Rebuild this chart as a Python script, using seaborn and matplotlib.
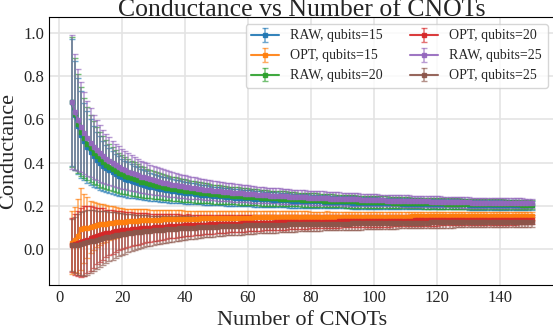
import numpy as np
import matplotlib
matplotlib.use("Agg")
import matplotlib.pyplot as plt
import seaborn as sns

# ---------------- data ----------------
n_cnots = np.arange(4, 151)

labels = ["RAW, qubits=15", "OPT, qubits=15", "RAW, qubits=20",
          "OPT, qubits=20", "RAW, qubits=25", "OPT, qubits=25"]

raw15_mean = [
    .680, .618, .569, .530, .498, .472, .449, .430, .413, .399,
    .386, .374, .364, .355, .347, .339, .332, .326, .320, .315,
    .310, .305, .301, .297, .293, .289, .286, .283, .280, .277,
    .275, .272, .270, .268, .265, .263, .261, .260, .258, .256,
    .254, .253, .251, .250, .249, .247, .246, .245, .244, .243,
    .241, .240, .239, .238, .237, .236, .236, .235, .234, .233,
    .232, .231, .231, .230, .229, .229, .228, .227, .227, .226,
    .225, .225, .224, .224, .223, .223, .222, .222, .221, .221,
    .220, .220, .219, .219, .218, .218, .218, .217, .217, .216,
    .216, .216, .215, .215, .215, .214, .214, .214, .213, .213,
    .213, .212, .212, .212, .212, .211, .211, .211, .210, .210,
    .210, .210, .209, .209, .209, .209, .208, .208, .208, .208,
    .208, .207, .207, .207, .207, .207, .206, .206, .206, .206,
    .206, .205, .205, .205, .205, .205, .204, .204, .204, .204,
    .204, .204, .203, .203, .203, .203, .203]
raw15_std = [
    .293, .253, .223, .199, .180, .165, .152, .141, .131, .123,
    .116, .110, .104, .099, .095, .091, .087, .084, .081, .078,
    .075, .073, .071, .069, .067, .065, .063, .062, .060, .059,
    .057, .056, .055, .054, .053, .051, .050, .050, .049, .048,
    .047, .046, .045, .045, .044, .043, .043, .042, .041, .041,
    .040, .040, .039, .039, .038, .038, .037, .037, .037, .036,
    .036, .035, .035, .035, .034, .034, .034, .033, .033, .033,
    .032, .032, .032, .032, .031, .031, .031, .030, .030, .030,
    .030, .030, .029, .029, .029, .029, .028, .028, .028, .028,
    .028, .028, .027, .027, .027, .027, .027, .027, .026, .026,
    .026, .026, .026, .026, .025, .025, .025, .025, .025, .025,
    .025, .025, .024, .024, .024, .024, .024, .024, .024, .024,
    .023, .023, .023, .023, .023, .023, .023, .023, .023, .023,
    .023, .022, .022, .022, .022, .022, .022, .022, .022, .022,
    .022, .022, .021, .021, .021, .021, .021]

opt15_mean = [
    .030, .045, .060, .095, .097, .100, .103, .108, .112, .115,
    .117, .119, .121, .122, .124, .125, .127, .128, .129, .130,
    .131, .132, .133, .134, .135, .135, .136, .137, .137, .138,
    .138, .139, .139, .140, .140, .141, .141, .141, .142, .142,
    .142, .143, .143, .143, .144, .144, .144, .144, .145, .145,
    .145, .145, .146, .146, .146, .146, .146, .146, .147, .147,
    .147, .147, .147, .147, .148, .148, .148, .148, .148, .148,
    .148, .149, .149, .149, .149, .149, .149, .149, .149, .149,
    .149, .150, .150, .150, .150, .150, .150, .150, .150, .150,
    .150, .150, .150, .151, .151, .151, .151, .151, .151, .151,
    .151, .151, .151, .151, .151, .151, .151, .151, .152, .152,
    .152, .152, .152, .152, .152, .152, .152, .152, .152, .152,
    .152, .152, .152, .152, .152, .152, .152, .152, .152, .153,
    .153, .153, .153, .153, .153, .153, .153, .153, .153, .153,
    .153, .153, .153, .153, .153, .153, .153]
opt15_std = [
    .145, .150, .170, .190, .160, .140, .120, .110, .100, .095,
    .090, .085, .080, .076, .072, .068, .063, .060, .058, .056,
    .054, .053, .051, .050, .049, .047, .046, .045, .044, .043,
    .043, .042, .041, .040, .040, .039, .038, .038, .037, .036,
    .036, .035, .035, .034, .034, .034, .033, .033, .032, .032,
    .032, .031, .031, .031, .030, .030, .030, .029, .029, .029,
    .029, .028, .028, .028, .028, .028, .027, .027, .027, .027,
    .027, .026, .026, .026, .026, .026, .025, .025, .025, .025,
    .025, .025, .024, .024, .024, .024, .024, .024, .024, .024,
    .023, .023, .023, .023, .023, .023, .023, .023, .023, .022,
    .022, .022, .022, .022, .022, .022, .022, .022, .022, .022,
    .021, .021, .021, .021, .021, .021, .021, .021, .021, .021,
    .021, .021, .021, .021, .020, .020, .020, .020, .020, .020,
    .020, .020, .020, .020, .020, .020, .020, .020, .020, .020,
    .020, .019, .019, .019, .019, .019, .019]

raw20_mean = [
    .680, .624, .580, .544, .513, .488, .466, .447, .430, .415,
    .402, .391, .380, .370, .362, .354, .347, .340, .334, .328,
    .323, .318, .313, .309, .305, .301, .298, .294, .291, .288,
    .285, .283, .280, .278, .275, .273, .271, .269, .267, .265,
    .263, .262, .260, .258, .257, .255, .254, .253, .251, .250,
    .249, .248, .247, .246, .245, .243, .243, .241, .241, .240,
    .239, .238, .237, .236, .236, .235, .234, .233, .233, .232,
    .231, .231, .230, .229, .229, .228, .228, .227, .227, .226,
    .225, .225, .224, .224, .223, .223, .223, .222, .222, .221,
    .221, .220, .220, .220, .219, .219, .218, .218, .218, .217,
    .217, .217, .216, .216, .216, .215, .215, .215, .214, .214,
    .214, .214, .213, .213, .213, .213, .212, .212, .212, .211,
    .211, .211, .211, .211, .210, .210, .210, .210, .209, .209,
    .209, .209, .209, .208, .208, .208, .208, .208, .207, .207,
    .207, .207, .207, .206, .206, .206, .206]
raw20_std = [
    .302, .260, .229, .204, .185, .169, .156, .145, .135, .127,
    .119, .113, .108, .102, .098, .093, .090, .086, .083, .080,
    .078, .075, .073, .070, .068, .066, .065, .063, .061, .060,
    .059, .057, .056, .055, .054, .053, .052, .051, .050, .049,
    .048, .047, .046, .046, .045, .044, .044, .043, .042, .042,
    .041, .041, .040, .040, .039, .039, .038, .038, .037, .037,
    .037, .036, .036, .035, .035, .035, .034, .034, .034, .033,
    .033, .033, .032, .032, .032, .032, .031, .031, .031, .031,
    .030, .030, .030, .030, .029, .029, .029, .029, .029, .028,
    .028, .028, .028, .028, .028, .027, .027, .027, .027, .027,
    .027, .026, .026, .026, .026, .026, .026, .025, .025, .025,
    .025, .025, .025, .025, .025, .024, .024, .024, .024, .024,
    .024, .024, .024, .024, .023, .023, .023, .023, .023, .023,
    .023, .023, .023, .023, .022, .022, .022, .022, .022, .022,
    .022, .022, .022, .022, .022, .022, .022]

opt20_mean = [
    .020, .023, .027, .032, .038, .044, .050, .055, .060, .065,
    .069, .073, .077, .080, .083, .086, .088, .089, .091, .092,
    .094, .095, .096, .098, .099, .100, .101, .102, .103, .104,
    .105, .106, .107, .108, .108, .109, .110, .111, .111, .112,
    .113, .113, .114, .114, .115, .115, .116, .116, .117, .117,
    .118, .118, .119, .119, .120, .120, .120, .121, .121, .122,
    .122, .122, .123, .123, .123, .124, .124, .124, .124, .125,
    .125, .125, .126, .126, .126, .126, .127, .127, .127, .127,
    .128, .128, .128, .128, .128, .129, .129, .129, .129, .129,
    .130, .130, .130, .130, .130, .130, .131, .131, .131, .131,
    .131, .131, .132, .132, .132, .132, .132, .132, .132, .133,
    .133, .133, .133, .133, .133, .133, .133, .134, .134, .134,
    .134, .134, .134, .134, .134, .135, .135, .135, .135, .135,
    .135, .135, .135, .135, .135, .135, .136, .136, .136, .136,
    .136, .136, .136, .136, .136, .136, .136]
opt20_std = [
    .125, .140, .150, .160, .160, .155, .150, .140, .130, .125,
    .120, .110, .105, .100, .095, .090, .087, .084, .081, .078,
    .075, .073, .071, .069, .067, .065, .063, .062, .060, .059,
    .057, .056, .055, .054, .053, .051, .050, .050, .049, .048,
    .047, .046, .045, .045, .044, .043, .043, .042, .041, .041,
    .040, .040, .039, .039, .038, .038, .037, .037, .037, .036,
    .036, .035, .035, .035, .034, .034, .034, .033, .033, .033,
    .032, .032, .032, .032, .031, .031, .031, .030, .030, .030,
    .030, .030, .029, .029, .029, .029, .028, .028, .028, .028,
    .028, .028, .027, .027, .027, .027, .027, .027, .026, .026,
    .026, .026, .026, .026, .025, .025, .025, .025, .025, .025,
    .025, .025, .024, .024, .024, .024, .024, .024, .024, .024,
    .023, .023, .023, .023, .023, .023, .023, .023, .023, .023,
    .023, .022, .022, .022, .022, .022, .022, .022, .022, .022,
    .022, .022, .021, .021, .021, .021, .021]

raw25_mean = [
    .680, .635, .597, .565, .537, .513, .493, .474, .458, .443,
    .430, .418, .407, .397, .388, .380, .372, .365, .359, .352,
    .347, .341, .336, .332, .327, .323, .319, .315, .312, .308,
    .305, .302, .299, .296, .294, .291, .289, .286, .284, .282,
    .280, .278, .276, .274, .273, .271, .269, .268, .266, .265,
    .263, .262, .261, .259, .258, .257, .256, .255, .254, .252,
    .251, .250, .249, .248, .248, .247, .246, .245, .244, .243,
    .242, .242, .241, .240, .240, .239, .238, .237, .237, .236,
    .236, .235, .234, .234, .233, .233, .232, .232, .231, .230,
    .230, .230, .229, .229, .228, .228, .227, .227, .226, .226,
    .225, .225, .225, .224, .224, .223, .223, .223, .222, .222,
    .222, .221, .221, .221, .220, .220, .220, .219, .219, .219,
    .218, .218, .218, .218, .217, .217, .217, .216, .216, .216,
    .216, .215, .215, .215, .215, .214, .214, .214, .214, .213,
    .213, .213, .213, .213, .212, .212, .212]
raw25_std = [
    .310, .267, .235, .210, .190, .174, .160, .148, .139, .130,
    .123, .116, .110, .105, .100, .096, .092, .088, .085, .082,
    .079, .077, .074, .072, .070, .068, .066, .065, .063, .061,
    .060, .059, .057, .056, .055, .054, .053, .052, .051, .050,
    .049, .048, .048, .047, .046, .045, .045, .044, .043, .043,
    .042, .042, .041, .041, .040, .040, .039, .039, .038, .038,
    .037, .037, .036, .036, .036, .035, .035, .035, .034, .034,
    .034, .033, .033, .033, .032, .032, .032, .032, .031, .031,
    .031, .031, .030, .030, .030, .030, .030, .029, .029, .029,
    .029, .029, .028, .028, .028, .028, .028, .027, .027, .027,
    .027, .027, .027, .026, .026, .026, .026, .026, .026, .026,
    .025, .025, .025, .025, .025, .025, .025, .025, .024, .024,
    .024, .024, .024, .024, .024, .024, .024, .023, .023, .023,
    .023, .023, .023, .023, .023, .023, .023, .023, .022, .022,
    .022, .022, .022, .022, .022, .022, .022]

opt25_mean = [
    .018, .020, .022, .025, .028, .032, .036, .040, .044, .048,
    .052, .056, .059, .062, .065, .068, .070, .072, .074, .076,
    .078, .080, .082, .083, .085, .086, .088, .089, .090, .091,
    .092, .093, .094, .095, .096, .097, .098, .099, .100, .100,
    .101, .102, .103, .103, .104, .104, .105, .106, .106, .107,
    .107, .108, .108, .109, .109, .110, .110, .110, .111, .111,
    .112, .112, .112, .113, .113, .113, .114, .114, .114, .115,
    .115, .115, .116, .116, .116, .116, .117, .117, .117, .117,
    .118, .118, .118, .118, .119, .119, .119, .119, .119, .120,
    .120, .120, .120, .120, .120, .120, .121, .121, .121, .121,
    .122, .122, .122, .122, .122, .122, .122, .123, .123, .123,
    .123, .123, .123, .123, .124, .124, .124, .124, .124, .124,
    .124, .124, .125, .125, .125, .125, .125, .125, .125, .125,
    .125, .126, .126, .126, .126, .126, .126, .126, .126, .126,
    .126, .126, .127, .127, .127, .127, .127]
opt25_std = [
    .120, .130, .140, .145, .150, .150, .145, .140, .135, .130,
    .125, .120, .115, .110, .105, .100, .096, .092, .088, .085,
    .082, .079, .077, .074, .072, .070, .068, .066, .065, .063,
    .061, .060, .059, .057, .056, .055, .054, .053, .052, .051,
    .050, .049, .048, .048, .047, .046, .045, .045, .044, .043,
    .043, .042, .042, .041, .041, .040, .040, .039, .039, .038,
    .038, .037, .037, .036, .036, .036, .035, .035, .035, .034,
    .034, .034, .033, .033, .033, .032, .032, .032, .032, .031,
    .031, .031, .031, .030, .030, .030, .030, .030, .029, .029,
    .029, .029, .029, .028, .028, .028, .028, .028, .027, .027,
    .027, .027, .027, .027, .026, .026, .026, .026, .026, .026,
    .026, .025, .025, .025, .025, .025, .025, .025, .025, .024,
    .024, .024, .024, .024, .024, .024, .024, .024, .023, .023,
    .023, .023, .023, .023, .023, .023, .023, .023, .023, .022,
    .022, .022, .022, .022, .022, .022, .022]

means = [raw15_mean, opt15_mean, raw20_mean, opt20_mean, raw25_mean, opt25_mean]
stds = [raw15_std, opt15_std, raw20_std, opt20_std, raw25_std, opt25_std]

x_ticks = [0, 20, 40, 60, 80, 100, 120, 140]
y_ticks = [0.0, 0.2, 0.4, 0.6, 0.8, 1.0]

# ---------------- style ----------------
sns.set_style("whitegrid", {"axes.edgecolor": "black", "grid.color": "#e4e4e4",
                            "axes.linewidth": 1.2})
plt.rcParams["font.family"] = ["Liberation Serif", "DejaVu Serif"]
palette = sns.color_palette("tab10")

fig = plt.figure(figsize=(5.53, 3.31), dpi=100)
ax = fig.add_axes([49 / 553, 46 / 331, 505.5 / 553, 268 / 331])

for i, (lab, m, s) in enumerate(zip(labels, means, stds)):
    cont = ax.errorbar(n_cnots, m, yerr=s, fmt="-s", color=palette[i],
                       markersize=2.2, linewidth=1.5, elinewidth=1.1,
                       capsize=2, capthick=1.0, alpha=0.9, label=lab)
    for c in cont[1]:
        c.set_alpha(0.65)
    for b in cont[2]:
        b.set_alpha(0.65)

ax.set_xlim(-3.2, 157.3)
ax.set_ylim(-0.165, 1.073)
ax.set_xticks(x_ticks)
ax.set_yticks(y_ticks)
ax.set_yticklabels([f"{v:.1f}" for v in y_ticks])
ax.tick_params(labelsize=12, length=0)
ax.grid(True, color="#e4e4e4", linewidth=1.2)

ax.set_title("Conductance vs Number of CNOTs", fontsize=18.5, pad=1)
ax.set_xlabel("Number of CNOTs", fontsize=16)
ax.set_ylabel("Conductance", fontsize=16)

ax.legend(loc="upper right", ncol=2, fontsize=10, frameon=True)

fig.savefig("out.png", dpi=100)
